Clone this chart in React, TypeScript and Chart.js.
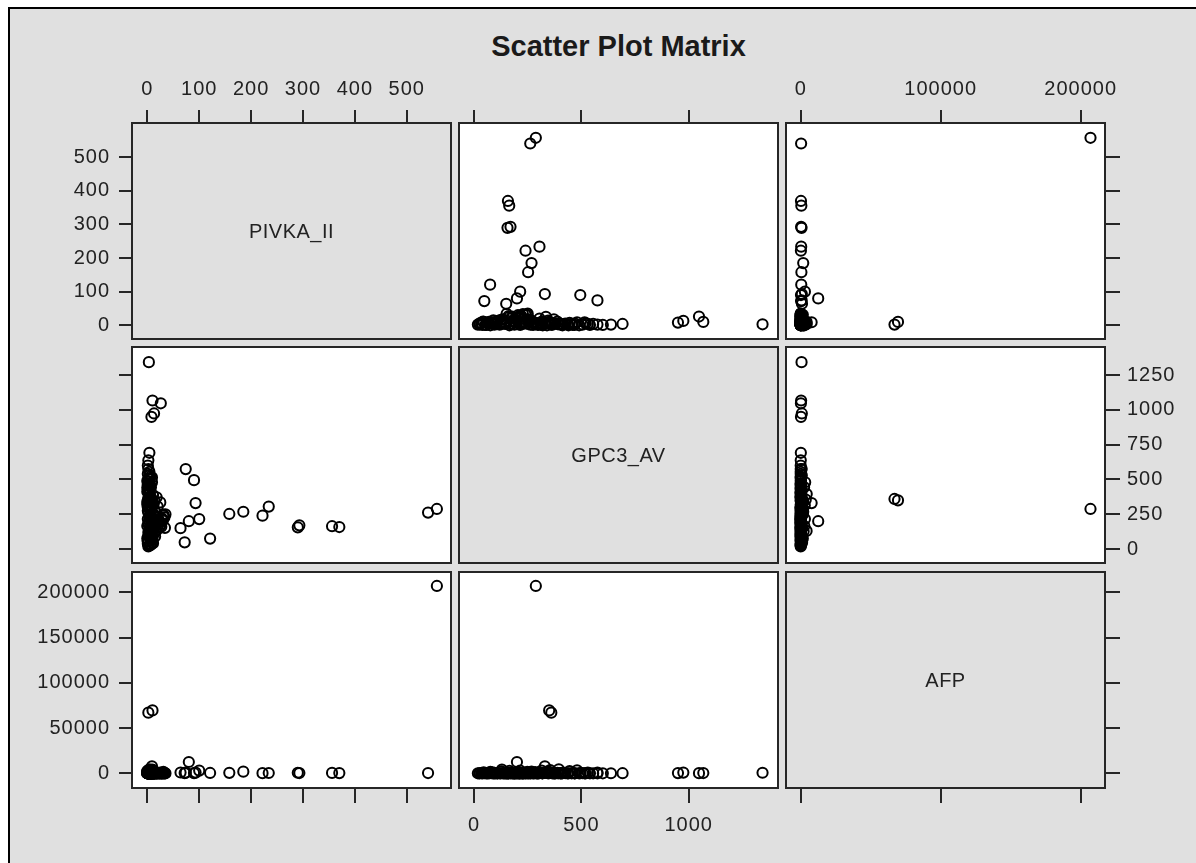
import React, { useEffect, useRef } from 'react';
import { Chart, registerables } from 'chart.js';

Chart.register(...registerables);

const TITLE = 'Scatter Plot Matrix';
const VARIABLES = ['PIVKA_II', 'GPC3_AV', 'AFP'];

// Observations (one entry per subject, same index across the three arrays)
const PIVKA_II = [
  558, 541, 370, 356, 293, 290, 234, 222, 185, 158,
  121, 100, 93, 90, 74, 72, 80, 64, 34, 28,
  31, 3, 10, 26, 13, 8, 4, 2, 2, 10,
  2, 5, 1, 8, 12, 3, 0, 6, 15, 4,
  9, 2, 22, 7, 1, 3, 11, 5, 18, 0,
  4, 6, 2, 27, 9, 1, 13, 3, 7, 20,
  1, 8, 5, 2, 31, 10, 4, 6, 0, 14,
  3, 17, 7, 2, 9, 25, 1, 5, 11, 6,
  0, 4, 19, 8, 2, 12, 3, 35, 6, 1,
  10, 5, 2, 23, 7, 4, 16, 0, 9, 3,
  6, 1, 28, 4, 13, 2, 8, 5, 21, 0,
  7, 3, 11, 1, 30, 5, 2, 9, 14, 4,
  2, 18, 6, 0, 8, 24, 3, 12, 1, 33,
  5, 9, 2, 15, 4, 7, 26, 1, 10, 3,
];

const GPC3_AV = [
  288, 262, 158, 164, 170, 156, 305, 240, 268, 252,
  75, 215, 330, 495, 575, 48, 200, 150, 152, 214,
  248, 1344, 1068, 1048, 975, 950, 692, 638, 360, 350,
  120, 245, 38, 310, 185, 402, 76, 520, 265, 150,
  330, 95, 210, 445, 58, 172, 388, 290, 135, 412,
  225, 350, 18, 160, 480, 275, 110, 415, 63, 305,
  540, 190, 85, 365, 240, 130, 455, 27, 320, 200,
  405, 260, 145, 575, 88, 335, 215, 470, 42, 380,
  165, 295, 230, 108, 505, 180, 360, 250, 140, 298,
  70, 425, 315, 195, 270, 555, 125, 340, 100, 435,
  280, 52, 220, 395, 155, 318, 235, 375, 175, 490,
  34, 300, 255, 460, 205, 128, 410, 80, 345, 530,
  188, 372, 96, 440, 285, 162, 25, 318, 468, 228,
  142, 515, 262, 90, 355, 212, 178, 600, 45, 392,
];

const AFP = [
  207000, 300, 200, 450, 300, 600, 350, 150, 1800, 500,
  400, 3000, 800, 200, 700, 250, 12500, 900, 120, 60,
  1500, 600, 300, 150, 800, 200, 100, 40, 67000, 69500,
  5, 120, 2, 850, 30, 8, 1500, 12, 300, 4,
  7800, 3, 9, 2400, 15, 6, 420, 25, 7, 180,
  1, 40, 11, 5, 3200, 18, 2, 650, 9, 75,
  22, 7, 950, 3, 14, 4200, 6, 35, 260, 2,
  10, 580, 4, 20, 1, 790, 45, 3, 130, 16,
  2600, 8, 27, 6, 90, 3, 1100, 13, 5, 48,
  7, 33, 2900, 2, 210, 11, 4, 1800, 19, 6,
  3, 160, 9, 4300, 26, 5, 70, 1, 620, 14,
  38, 2, 12, 360, 6, 2100, 9, 55, 3, 780,
  17, 4, 610, 8, 1300, 2, 28, 240, 5, 10,
  450, 21, 1, 95, 3600, 7, 150, 3, 980, 24,
];

// Tick values
const PIVKA_TICKS = [0, 100, 200, 300, 400, 500];
const GPC3_X_TICKS = [0, 500, 1000];
const GPC3_Y_TICKS = [0, 250, 500, 750, 1000, 1250];
const AFP_X_TICKS = [0, 100000, 200000];
const AFP_Y_TICKS = [0, 50000, 100000, 150000, 200000];

// Axis bounds
const X_MIN = [-29.5, -69.9, -10500];
const X_MAX = [585.2, 1416, 217357];
const Y_MIN = [-40.8, -100.7, -16240];
const Y_MAX = [602, 1453, 222430];

const VALUES = [PIVKA_II, GPC3_AV, AFP];
const X_TICKS = [PIVKA_TICKS, GPC3_X_TICKS, AFP_X_TICKS];
const Y_TICKS = [PIVKA_TICKS, GPC3_Y_TICKS, AFP_Y_TICKS];

// layout
const COL_LEFT = [132, 459, 786];
const ROW_TOP = [123, 347, 572];
const PW = 319;
const PH = 216;
const M = 110;
const LINE = '#262626';
const TEXT = '#222222';
const BG = '#e0e0e0';
const FONT = '"Liberation Sans", Arial, Helvetica, sans-serif';

Chart.defaults.font.family = FONT;

function makeAxis(kind: 'x' | 'y', position: string, min: number, max: number, ticks: number[], showTicks: boolean, showLabels: boolean) {
  let tickLength = 13;
  let padding = 9;
  if (position === 'bottom') { tickLength = 15; padding = 10; }
  if (position === 'top') { tickLength = 13; padding = 9; }
  if (position === 'right') { tickLength = 15; padding = 7; }
  return {
    type: 'linear',
    axis: kind,
    position,
    min,
    max,
    afterBuildTicks: (s: any) => {
      s.ticks = ticks.map((v) => ({ value: v }));
    },
    afterFit: (s: any) => {
      if (kind === 'x') s.height = M;
      else s.width = M;
    },
    grid: {
      display: showTicks,
      drawOnChartArea: false,
      drawTicks: true,
      tickLength,
      color: LINE,
      lineWidth: 2,
    },
    border: { display: true, color: LINE, width: 2 },
    ticks: {
      display: showTicks,
      autoSkip: false,
      maxRotation: 0,
      minRotation: 0,
      padding,
      color: showLabels ? TEXT : 'rgba(0,0,0,0)',
      font: { family: FONT, size: 20 },
      callback: (v: any) => String(v),
    },
  };
}

const panelPlugin = {
  id: 'panelDecor',
  beforeDraw(chart: any, _args: any, opts: any) {
    const ctx = chart.ctx;
    try { ctx.letterSpacing = '1px'; } catch (e) { /* ignore */ }
    if (!opts.diag) {
      const a = chart.chartArea;
      ctx.save();
      ctx.fillStyle = '#ffffff';
      ctx.fillRect(a.left, a.top, a.right - a.left, a.bottom - a.top);
      ctx.restore();
    }
  },
  afterDraw(chart: any, _args: any, opts: any) {
    if (opts.diag && opts.label) {
      const a = chart.chartArea;
      const ctx = chart.ctx;
      ctx.save();
      try { ctx.letterSpacing = '0.5px'; } catch (e) { /* ignore */ }
      ctx.fillStyle = TEXT;
      ctx.font = '20px ' + FONT;
      ctx.textAlign = 'center';
      ctx.textBaseline = 'middle';
      ctx.fillText(opts.label, (a.left + a.right) / 2, (a.top + a.bottom) / 2 + 1);
      ctx.restore();
    }
  },
};

function Panel({ r, c }: { r: number; c: number }) {
  const ref = useRef<HTMLCanvasElement>(null);
  useEffect(() => {
    const diag = r === c;
    const xs = VALUES[c];
    const ys = VALUES[r];
    const points = diag ? [] : xs.map((v, i) => ({ x: v, y: ys[i] }));
    const chart = new Chart(ref.current as HTMLCanvasElement, {
      type: 'scatter',
      data: {
        datasets: [
          {
            data: points,
            xAxisID: 'x',
            yAxisID: 'y',
            pointStyle: 'circle',
            pointRadius: 5.1,
            pointBorderWidth: 2,
            borderColor: '#000000',
            backgroundColor: 'rgba(0,0,0,0)',
            pointBackgroundColor: 'rgba(0,0,0,0)',
            pointBorderColor: '#000000',
          },
        ],
      },
      options: {
        responsive: false,
        animation: false,
        events: [],
        devicePixelRatio: 1,
        layout: { padding: 0 },
        plugins: {
          legend: { display: false },
          tooltip: { enabled: false },
          title: { display: false },
          panelDecor: { diag, label: VARIABLES[r] },
        } as any,
        scales: {
          x: makeAxis('x', 'bottom', X_MIN[c], X_MAX[c], X_TICKS[c], r === 2, r === 2 && c === 1),
          xTop: makeAxis('x', 'top', X_MIN[c], X_MAX[c], X_TICKS[c], r === 0, r === 0 && c !== 1),
          y: makeAxis('y', 'left', Y_MIN[r], Y_MAX[r], Y_TICKS[r], c === 0, c === 0 && r !== 1),
          yRight: makeAxis('y', 'right', Y_MIN[r], Y_MAX[r], Y_TICKS[r], c === 2, c === 2 && r === 1),
        } as any,
      },
      plugins: [panelPlugin],
    } as any);
    return () => chart.destroy();
  }, [r, c]);
  const w = PW + 2 * M;
  const h = PH + 2 * M;
  return (
    <canvas
      ref={ref}
      width={w}
      height={h}
      style={{ position: 'absolute', left: COL_LEFT[c] - M, top: ROW_TOP[r] - M, width: w, height: h }}
    />
  );
}

export default function App() {
  const panels = [];
  for (let r = 0; r < 3; r++) {
    for (let c = 0; c < 3; c++) {
      panels.push(<Panel key={r + '-' + c} r={r} c={c} />);
    }
  }
  return (
    <div style={{ position: 'absolute', left: 0, top: 0, width: 1196, height: 863, overflow: 'hidden', background: '#ffffff' }}>
      <div
        style={{
          position: 'absolute', left: 8, top: 7, width: 1300, height: 1000,
          background: BG, borderLeft: '2px solid #000', borderTop: '2px solid #000', boxSizing: 'border-box',
        }}
      />
      <div
        style={{
          position: 'absolute', left: 132, top: 32, width: 973, textAlign: 'center',
          fontFamily: FONT, fontWeight: 'bold', fontSize: 29, lineHeight: '29px', color: '#1a1a1a', whiteSpace: 'nowrap',
        }}
      >
        {TITLE}
      </div>
      {panels}
    </div>
  );
}
